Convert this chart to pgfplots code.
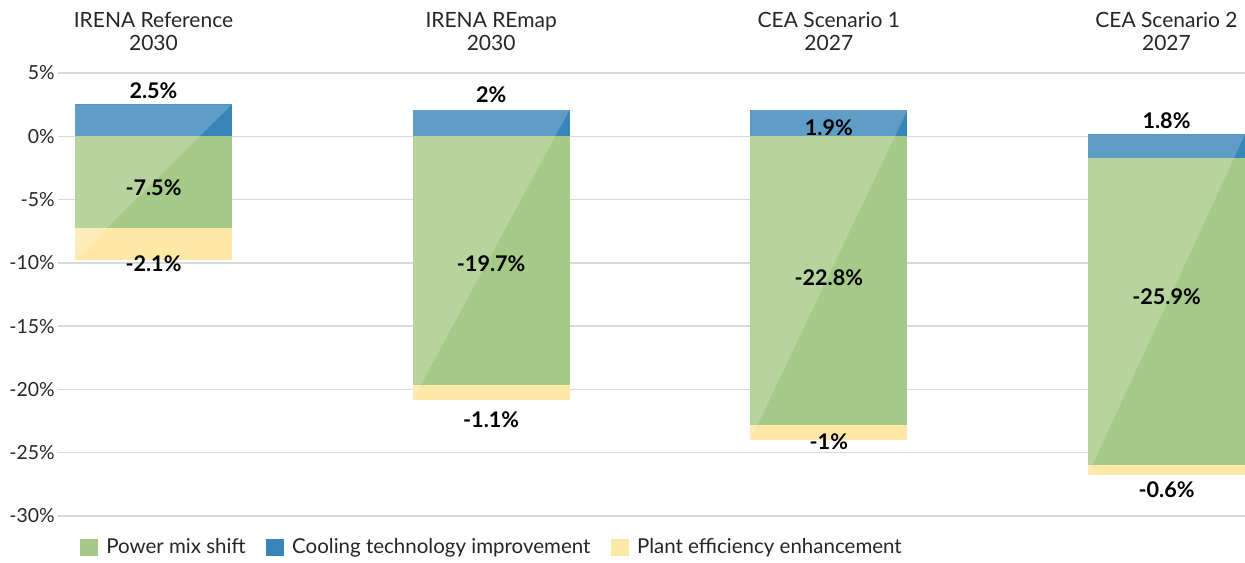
\documentclass[border=0pt]{standalone}
\usepackage{fontspec}
\setmainfont{Lato}
\usepackage{pgfplots}
\pgfplotsset{compat=1.18}

\definecolor{cgreen}{HTML}{A5C986}
\definecolor{cblue}{HTML}{3785B9}
\definecolor{cyellow}{HTML}{FDE8A8}
\definecolor{cgrid}{HTML}{D9D9D9}
\definecolor{ctext}{HTML}{262626}

\begin{document}
\begin{tikzpicture}
\begin{axis}[
  name=ax,
  scale only axis, width=593.5pt, height=221.5pt,
  xmin=-0.2828, xmax=3.2325, ymin=-30, ymax=5,
  axis line style={draw=none}, major tick length=0pt,
  ytick={-30,-25,-20,-15,-10,-5,0,5},
  yticklabels={-30\%,-25\%,-20\%,-15\%,-10\%,-5\%,0\%,5\%},
  ymajorgrids, major grid style={cgrid, line width=0.75pt},
  yticklabel style={font=\fontsize{9.7}{11}\selectfont, text=ctext, anchor=east, inner sep=0pt, xshift=-1.5pt},
  xtick={0,1,2,3}, xticklabel pos=upper,
  xticklabels={{IRENA Reference\\2030},{IRENA REmap\\2030},{CEA Scenario 1\\2027},{CEA Scenario 2\\2027}},
  xticklabel style={align=center, font=\fontsize{10.5}{11.5}\selectfont, text=ctext, anchor=south, inner sep=0pt, yshift=11pt},
  legend style={at={(0.0185,-0.0716)}, anchor=west, draw=none, fill=none, inner sep=0pt,
    font=\fontsize{10.25}{12}\selectfont, text=ctext, nodes={inner sep=0pt},
    /tikz/every odd column/.append style={column sep=4.2pt},
    /tikz/every even column/.append style={column sep=10.3pt}},
  legend columns=-1,
  legend image code/.code={\fill[#1] (0pt,-4.3pt) rectangle (8.8pt,4.3pt);},
]
\addlegendimage{fill=cgreen, draw=none}
\addlegendentry{Power mix shift}
\addlegendimage{fill=cblue, draw=none}
\addlegendentry{Cooling technology improvement}
\addlegendimage{fill=cyellow, draw=none}
\addlegendentry{Plant efficiency enhancement}

% IRENA Reference 2030
\addplot[fill=cblue, draw=none, forget plot] coordinates {(-0.2325,0) (0.2325,0) (0.2325,2.52) (-0.2325,2.52)} --cycle;
\addplot[fill=cgreen, draw=none, forget plot] coordinates {(-0.2325,0) (0.2325,0) (0.2325,-7.26) (-0.2325,-7.26)} --cycle;
\addplot[fill=cyellow, draw=none, forget plot] coordinates {(-0.2325,-7.26) (0.2325,-7.26) (0.2325,-9.74) (-0.2325,-9.74)} --cycle;
% IRENA REmap 2030
\addplot[fill=cblue, draw=none, forget plot] coordinates {(0.7675,0) (1.2325,0) (1.2325,2.1) (0.7675,2.1)} --cycle;
\addplot[fill=cgreen, draw=none, forget plot] coordinates {(0.7675,0) (1.2325,0) (1.2325,-19.67) (0.7675,-19.67)} --cycle;
\addplot[fill=cyellow, draw=none, forget plot] coordinates {(0.7675,-19.67) (1.2325,-19.67) (1.2325,-20.83) (0.7675,-20.83)} --cycle;
% CEA Scenario 1 2027
\addplot[fill=cblue, draw=none, forget plot] coordinates {(1.7675,0) (2.2325,0) (2.2325,2.06) (1.7675,2.06)} --cycle;
\addplot[fill=cgreen, draw=none, forget plot] coordinates {(1.7675,0) (2.2325,0) (2.2325,-22.83) (1.7675,-22.83)} --cycle;
\addplot[fill=cyellow, draw=none, forget plot] coordinates {(1.7675,-22.83) (2.2325,-22.83) (2.2325,-24.0) (1.7675,-24.0)} --cycle;
% CEA Scenario 2 2027
\addplot[fill=cblue, draw=none, forget plot] coordinates {(2.7675,0.15) (3.2325,0.15) (3.2325,-1.74) (2.7675,-1.74)} --cycle;
\addplot[fill=cgreen, draw=none, forget plot] coordinates {(2.7675,-1.74) (3.2325,-1.74) (3.2325,-25.97) (2.7675,-25.97)} --cycle;
\addplot[fill=cyellow, draw=none, forget plot] coordinates {(2.7675,-25.97) (3.2325,-25.97) (3.2325,-26.73) (2.7675,-26.73)} --cycle;

% lighter diagonal half of each bar
\addplot[fill=white, fill opacity=0.2, draw=none, forget plot] coordinates {(-0.2325,-9.74) (-0.2325,2.52) (0.2325,2.52)} --cycle;
\addplot[fill=white, fill opacity=0.2, draw=none, forget plot] coordinates {(0.7675,-20.83) (0.7675,2.1) (1.2325,2.1)} --cycle;
\addplot[fill=white, fill opacity=0.2, draw=none, forget plot] coordinates {(1.7675,-24.0) (1.7675,2.06) (2.2325,2.06)} --cycle;
\addplot[fill=white, fill opacity=0.2, draw=none, forget plot] coordinates {(2.7675,-26.73) (2.7675,0.15) (3.2325,0.15)} --cycle;

% value labels
\begin{scope}[every node/.style={font=\bfseries\fontsize{10.8}{12}\selectfont, text=black, inner sep=0pt}]
\node at (axis cs:0,3.63) {2.5\%};
\node at (axis cs:0,-4.03) {-7.5\%};
\node at (axis cs:0,-10.03) {-2.1\%};
\node at (axis cs:1,3.32) {2\%};
\node at (axis cs:1,-10.1) {-19.7\%};
\node at (axis cs:1,-22.36) {-1.1\%};
\node at (axis cs:2,0.71) {1.9\%};
\node at (axis cs:2,-11.2) {-22.8\%};
\node at (axis cs:2,-24.1) {-1\%};
\node at (axis cs:3,1.26) {1.8\%};
\node at (axis cs:3,-12.7) {-25.9\%};
\node at (axis cs:3,-27.96) {-0.6\%};
\end{scope}
\end{axis}
\pgfresetboundingbox
\path ([shift={(-29pt,-23.5pt)}]ax.south west) rectangle ([shift={(0pt,36.5pt)}]ax.north east);
\end{tikzpicture}
\end{document}
